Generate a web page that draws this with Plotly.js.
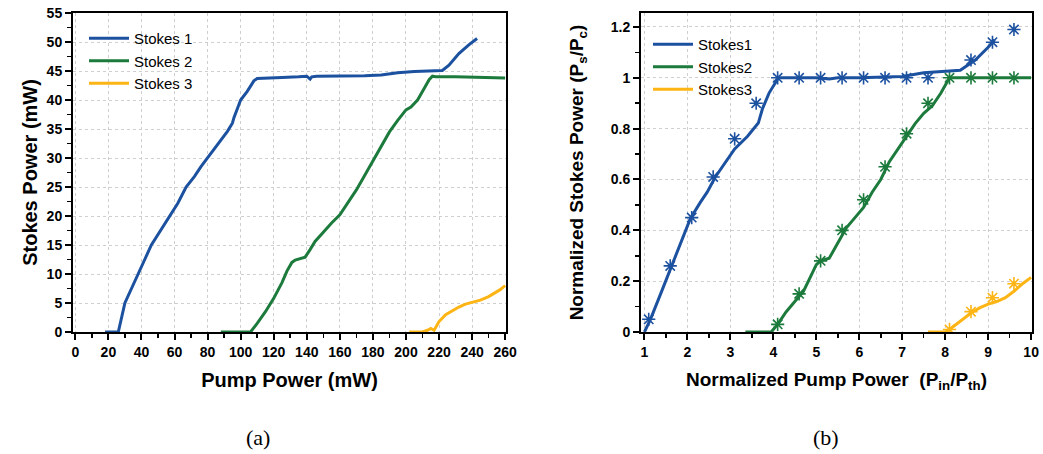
<!DOCTYPE html>
<html>
<head>
<meta charset="utf-8">
<script src="https://cdn.plot.ly/plotly-3.0.1.min.js"></script>
<style>html,body{margin:0;padding:0;background:#fff;}#chart{width:1043px;height:454px;}</style>
</head>
<body>
<div id="chart"></div>
<script>
// ---- Panel (a): Stokes power vs pump power (mW) ----
const s1X = [18,26,30,34,38,42,46,50,54,57,62,67,72,76,80,84,88,92,95,96,98,100,104,108,110,115,125,135,140,142,143,146,155,165,175,185,195,205,215,222,226,232,238,243];
const s1Y = [0,0,5,7.6,10,12.5,15,16.8,18.7,20,22.2,25,26.8,28.5,30,31.5,33,34.6,36,37,38.5,40,41.5,43.3,43.7,43.8,43.9,44,44.1,43.6,44,44.1,44.1,44.2,44.2,44.3,44.7,44.9,45,45.1,46,48,49.5,50.6];
const s2X = [88,100,106,110,115,120,125,128,131,133,136,139,142,145,150,155,160,163,166,170,175,180,185,190,195,200,203,207,211,214,216,218,230,240,250,260];
const s2Y = [0,0,0,1.5,3.5,5.8,8.5,10.5,12,12.4,12.6,12.9,14.2,15.6,17.2,18.8,20.2,21.5,22.8,24.5,27,29.5,32,34.5,36.5,38.3,38.8,40,42,43.5,44.1,44,44,43.9,43.9,43.8];
const s3X = [202,210,213,215,217,220,224,228,232,236,240,245,250,254,257,260];
const s3Y = [0,0,0.3,0.6,0.3,1.8,3,3.7,4.3,4.8,5.1,5.5,6.1,6.8,7.3,8];

// ---- Panel (b): normalized ----
const n1LineX = [1,1.14,1.4,1.64,1.85,2.07,2.3,2.46,2.65,2.9,3.1,3.4,3.65,3.75,3.9,4.12,4.5,5,5.3,5.5,6,6.5,7,7.5,8,8.35,8.7,9.0,9.15];
const n1LineY = [0,0.05,0.16,0.263,0.36,0.447,0.51,0.55,0.61,0.67,0.72,0.77,0.822,0.88,0.94,1.0,1.0,1.0,0.995,1.0,1.0,1.003,1.005,1.02,1.025,1.03,1.07,1.12,1.15];
const n1MkX = [1.1,1.6,2.1,2.6,3.1,3.6,4.1,4.6,5.1,5.6,6.1,6.6,7.1,7.6,8.6,9.1,9.6];
const n1MkY = [0.05,0.26,0.45,0.61,0.76,0.9,1.0,1.0,1.0,1.0,1.0,1.0,1.0,1.0,1.07,1.14,1.19];
const n2LineX = [3.35,3.95,4.1,4.3,4.5,4.7,4.9,5.0,5.1,5.3,5.5,5.7,5.9,6.1,6.3,6.5,6.7,6.9,7.1,7.3,7.5,7.7,7.9,8.1,8.5,9,9.5,10];
const n2LineY = [0,0,0.03,0.08,0.12,0.16,0.23,0.265,0.28,0.29,0.35,0.41,0.45,0.49,0.55,0.6,0.67,0.72,0.77,0.82,0.86,0.89,0.94,1.0,1.0,1.0,1.0,1.0];
const n2MkX = [4.1,4.6,5.1,5.6,6.1,6.6,7.1,7.6,8.1,8.6,9.1,9.6];
const n2MkY = [0.03,0.15,0.28,0.4,0.52,0.65,0.78,0.9,1.0,1.0,1.0,1.0];
const n3LineX = [7.6,8.0,8.1,8.25,8.4,8.6,8.8,9.0,9.2,9.4,9.6,9.8,10];
const n3LineY = [0,0,0.01,0.03,0.05,0.075,0.095,0.11,0.12,0.135,0.16,0.19,0.215];
const n3MkX = [8.1,8.6,9.1,9.6];
const n3MkY = [0.01,0.08,0.135,0.19];

const namesA = ['Stokes 1','Stokes 2','Stokes 3'];
const namesB = ['Stokes1','Stokes2','Stokes3'];
const colors = ['#1c51a0','#1c7b3c','#fdb515'];

const ff = 'Liberation Sans, Arial, sans-serif';
const lw = 3;

function line(x,y,name,color,xa,ya,leg){
  return {x:x,y:y,name:name,type:'scatter',mode:'lines',line:{color:color,width:lw},xaxis:xa,yaxis:ya,legend:leg,showlegend:true};
}
function marks(x,y,color,xa,ya){
  return {x:x,y:y,type:'scatter',mode:'markers',marker:{symbol:'asterisk-open',size:11,color:color,line:{color:color,width:1.6}},xaxis:xa,yaxis:ya,showlegend:false,hoverinfo:'skip'};
}

const data = [
  line(s1X,s1Y,namesA[0],colors[0],'x','y','legend'),
  line(s2X,s2Y,namesA[1],colors[1],'x','y','legend'),
  line(s3X,s3Y,namesA[2],colors[2],'x','y','legend'),
  marks(n1MkX,n1MkY,colors[0],'x2','y2'),
  marks(n2MkX,n2MkY,colors[1],'x2','y2'),
  marks(n3MkX,n3MkY,colors[2],'x2','y2'),
  line(n1LineX,n1LineY,namesB[0],colors[0],'x2','y2','legend2'),
  line(n2LineX,n2LineY,namesB[1],colors[1],'x2','y2','legend2'),
  line(n3LineX,n3LineY,namesB[2],colors[2],'x2','y2','legend2')
];

const tickFont = {family:ff,size:14,color:'#000',weight:'bold'};
const titleFont = {family:ff,size:20,color:'#000',weight:'bold'};
function axBase(){
  return {showline:true,linecolor:'#000',linewidth:2,mirror:true,ticks:'outside',ticklen:6,tickwidth:2,tickcolor:'#000',
    showgrid:true,gridcolor:'#cfcfcf',griddash:'dot',gridwidth:1,zeroline:false,tickfont:tickFont};
}

const yd = [1-332/454, 1-13/454];
const layout = {
  width:1043,height:454,margin:{l:0,r:0,t:0,b:0},paper_bgcolor:'#fff',plot_bgcolor:'#fff',
  showlegend:true,
  xaxis:Object.assign(axBase(),{domain:[73/1043,506/1043],range:[-1.4,260.5],tickmode:'linear',tick0:0,dtick:20,
    minor:{ticks:'outside',ticklen:4,tickwidth:1.5,tickcolor:'#000',dtick:10,showgrid:false},
    title:{text:'Pump Power (mW)',font:titleFont,standoff:14},anchor:'y'}),
  yaxis:Object.assign(axBase(),{domain:yd,range:[0,55],tickmode:'linear',tick0:0,dtick:5,
    minor:{ticks:'outside',ticklen:4,tickwidth:1.5,tickcolor:'#000',dtick:2.5,showgrid:false},
    title:{text:'Stokes Power (mW)',font:titleFont,standoff:4},anchor:'x'}),
  xaxis2:Object.assign(axBase(),{domain:[641/1043,1032/1043],range:[0.92,10.02],tickmode:'linear',tick0:1,dtick:1,
    minor:{ticks:'outside',ticklen:4,tickwidth:1.5,tickcolor:'#000',dtick:0.5,showgrid:false},
    title:{text:'Normalized Pump Power  (P<sub>in</sub>/P<sub>th</sub>)',font:{family:ff,size:19,color:'#000',weight:'bold'},standoff:14},anchor:'y2'}),
  yaxis2:Object.assign(axBase(),{domain:yd,range:[0,1.255],tickmode:'array',tickvals:[0,0.2,0.4,0.6,0.8,1,1.2],ticktext:['0','0.2','0.4','0.6','0.8','1','1.2'],
    minor:{ticks:'outside',ticklen:4,tickwidth:1.5,tickcolor:'#000',tickvals:[0.1,0.3,0.5,0.7,0.9,1.1],showgrid:false},
    title:{text:'Normalized Stokes Power (P<sub>s</sub>/P<sub>c</sub>)',font:{family:ff,size:19,color:'#000',weight:'bold'},standoff:22},anchor:'x2'}),
  legend:{x:84/1043,y:1-22/454,xanchor:'left',yanchor:'top',bgcolor:'rgba(0,0,0,0)',font:{family:ff,size:15,color:'#000'},tracegroupgap:0,itemwidth:40},
  legend2:{x:648/1043,y:1-28/454,xanchor:'left',yanchor:'top',bgcolor:'rgba(0,0,0,0)',font:{family:ff,size:15,color:'#000'},tracegroupgap:0,itemwidth:40},
  annotations:[
    {text:'(a)',x:258/1043,y:1-437/454,xref:'paper',yref:'paper',xanchor:'center',yanchor:'middle',showarrow:false,font:{family:'Liberation Serif, DejaVu Serif, serif',size:22,color:'#000'}},
    {text:'(b)',x:826/1043,y:1-437/454,xref:'paper',yref:'paper',xanchor:'center',yanchor:'middle',showarrow:false,font:{family:'Liberation Serif, DejaVu Serif, serif',size:22,color:'#000'}}
  ]
};

Plotly.newPlot('chart',data,layout,{displayModeBar:false,staticPlot:true});
</script>
</body>
</html>
